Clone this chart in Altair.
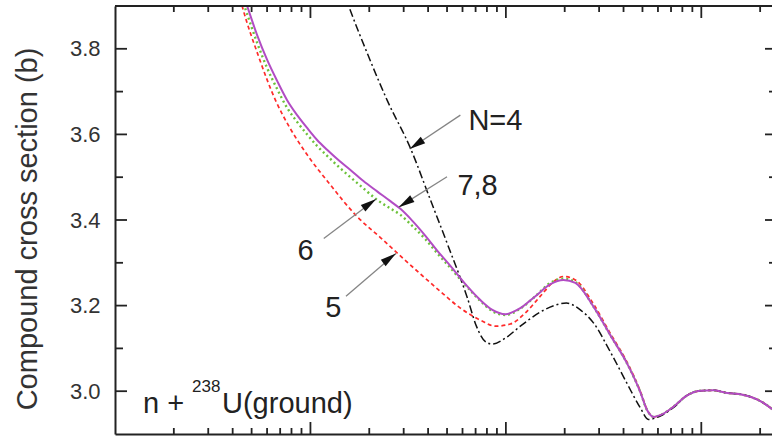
import altair as alt
import pandas as pd

# Compound cross section of n + 238U (ground state) vs incident energy (MeV),
# for coupled-channel calculations with N = 4 ... 8 coupled levels.

# N = 4
e_n4 = [0.1493, 0.1570, 0.1968, 0.2468, 0.3247, 0.4111, 0.5021, 0.6355, 0.7067,
        0.7857, 0.8531, 0.994, 1.186, 1.501, 1.791, 2.040, 2.405, 2.813, 3.423,
        4.169, 4.875, 5.357, 6.170, 7.218, 8.381, 9.883, 11.52, 13.54, 15.83,
        17.81, 20.04, 23.08, 24.77]
s_n4 = [3.928, 3.900, 3.786, 3.680, 3.568, 3.447, 3.344, 3.218, 3.152,
        3.116, 3.110, 3.124, 3.152, 3.185, 3.201, 3.206, 3.190, 3.159, 3.092,
        3.018, 2.961, 2.934, 2.942, 2.962, 2.989, 3.001, 3.002, 2.996, 2.993,
        2.987, 2.977, 2.958, 2.947]

# N = 5
e_n5 = [0.04283, 0.04473, 0.05439, 0.06622, 0.07807, 0.09241, 0.1265, 0.1733,
        0.2280, 0.2886, 0.3653, 0.4789, 0.5852, 0.7403, 0.8837, 1.054, 1.258,
        1.501, 1.729, 1.968, 2.267, 2.813, 3.423, 4.169, 4.875, 5.277, 5.702,
        6.170, 7.218, 8.381, 9.883, 11.52, 13.54, 15.83, 17.81, 20.04, 23.08, 24.77]
s_n5 = [3.933, 3.900, 3.781, 3.680, 3.617, 3.564, 3.482, 3.408,
        3.359, 3.316, 3.274, 3.227, 3.194, 3.166, 3.152, 3.157, 3.183,
        3.222, 3.253, 3.268, 3.260, 3.203, 3.135, 3.068, 3.000, 2.957, 2.940,
        2.944, 2.964, 2.989, 3.001, 3.002, 2.996, 2.993, 2.987, 2.977, 2.958, 2.947]

# N = 6
e_n6 = [0.04385, 0.04745, 0.05337, 0.06006, 0.06756, 0.07599, 0.08551, 0.09619,
        0.1082, 0.1217, 0.1390, 0.1602, 0.1867, 0.2194, 0.2565, 0.2886, 0.3324,
        0.3876, 0.4463, 0.5201, 0.6206, 0.7403, 0.8531, 0.994, 1.186, 1.416,
        1.689, 1.968, 2.267, 2.813, 3.423, 4.169, 4.875, 5.277, 5.702, 6.170,
        7.218, 8.381, 9.883, 11.52, 13.54, 15.83, 17.81, 20.04, 23.08, 24.77]
s_n6 = [3.928, 3.881, 3.814, 3.755, 3.706, 3.662, 3.629, 3.600,
        3.573, 3.550, 3.525, 3.500, 3.474, 3.447, 3.427, 3.412, 3.386,
        3.355, 3.322, 3.288, 3.248, 3.211, 3.187, 3.178, 3.193, 3.222,
        3.253, 3.263, 3.255, 3.197, 3.131, 3.065, 2.998, 2.956, 2.940, 2.944,
        2.964, 2.989, 3.001, 3.002, 2.996, 2.993, 2.987, 2.977, 2.958, 2.947]

# N = 7 and N = 8 (indistinguishable)
e_n78 = [0.04385, 0.04745, 0.05337, 0.06006, 0.06756, 0.07599, 0.08551, 0.09619,
         0.1082, 0.1217, 0.1390, 0.1602, 0.1867, 0.2194, 0.2565, 0.2886, 0.3324,
         0.3876, 0.4463, 0.5201, 0.6206, 0.7403, 0.8531, 0.994, 1.186, 1.416,
         1.689, 1.968, 2.267, 2.813, 3.423, 4.169, 4.875, 5.277, 5.702, 6.170,
         7.218, 8.381, 9.883, 11.52, 13.54, 15.83, 17.81, 20.04, 23.08, 24.77]
s_n78 = [3.947, 3.900, 3.832, 3.774, 3.725, 3.680, 3.645, 3.615,
         3.587, 3.564, 3.540, 3.517, 3.491, 3.467, 3.444, 3.426, 3.398,
         3.363, 3.328, 3.293, 3.250, 3.213, 3.190, 3.180, 3.194, 3.222,
         3.250, 3.260, 3.253, 3.197, 3.131, 3.065, 2.998, 2.956, 2.940, 2.944,
         2.964, 2.989, 3.001, 3.002, 2.996, 2.993, 2.987, 2.977, 2.958, 2.947]

# Axis ticks
x_major = [0.1, 1, 10]
x_minor = [0.02, 0.03, 0.04, 0.05, 0.06, 0.07, 0.08, 0.09,
           0.2, 0.3, 0.4, 0.5, 0.6, 0.7, 0.8, 0.9,
           2, 3, 4, 5, 6, 7, 8, 9, 20]
y_major = [3.0, 3.2, 3.4, 3.6, 3.8]
y_minor = [3.1, 3.3, 3.5, 3.7]

# Curve labels with arrows (label anchor, arrow tail, arrow tip on the curve)
lab_text = ["N=4", "7,8", "6", "5"]
lab_e = [0.643, 0.565, 0.0858, 0.119]
lab_s = [3.610, 3.458, 3.307, 3.173]
tail_e = [0.585, 0.500, 0.117, 0.152]
tail_s = [3.645, 3.501, 3.357, 3.222]
tip_e = [0.322, 0.283, 0.217, 0.274]
tip_s = [3.566, 3.430, 3.449, 3.322]
tip_angle = [236, 238, 55, 53]

W, H = 657, 428
FONT = "Liberation Sans"
INK = "#222222"

xs = alt.Scale(type="log", domain=[0.01, 23])
ys = alt.Scale(domain=[2.9, 3.9], nice=False, zero=False)
x_axis = alt.Axis(labels=False, ticks=False, grid=False, title=None,
                  domainColor=INK, domainWidth=2)
y_axis = alt.Axis(values=y_major, format=".1f", ticks=False, tickSize=0,
                  labelPadding=15, labelFontSize=22, labelFont=FONT,
                  labelColor="#333333", grid=False, title=None,
                  domainColor=INK, domainWidth=2)


def X(field):
    return alt.X(field, type="quantitative", scale=xs, axis=x_axis)


def Y(field):
    return alt.Y(field, type="quantitative", scale=ys, axis=y_axis)


def curve(e, s, color, dash, width):
    df = pd.DataFrame({"E": e, "sigma": s})
    mark = dict(color=color, strokeWidth=width, clip=True, interpolate="monotone")
    if dash:
        mark["strokeDash"] = dash
    return alt.Chart(df).mark_line(**mark).encode(x=X("E"), y=Y("sigma"))


layers = [
    curve(e_n5, s_n5, "#ff2a2a", [4, 3], 1.7),
    curve(e_n6, s_n6, "#6cc23a", [2, 3], 2.4),
    curve(e_n4, s_n4, "#111111", [8, 3, 2, 3], 1.5),
    curve(e_n78, s_n78, "#b24cc4", None, 2.0),
]

# Inward ticks on all four sides
xmaj = alt.Chart(pd.DataFrame({"v": x_major}))
xmin = alt.Chart(pd.DataFrame({"v": x_minor}))
ymaj = alt.Chart(pd.DataFrame({"v": y_major}))
ymin = alt.Chart(pd.DataFrame({"v": y_minor}))
tick = dict(color=INK, strokeWidth=1.8)
layers += [
    xmaj.mark_rule(**tick).encode(x=X("v"), y=alt.value(H), y2=alt.value(H - 12)),
    xmin.mark_rule(**tick).encode(x=X("v"), y=alt.value(H), y2=alt.value(H - 6)),
    xmaj.mark_rule(**tick).encode(x=X("v"), y=alt.value(0), y2=alt.value(12)),
    xmin.mark_rule(**tick).encode(x=X("v"), y=alt.value(0), y2=alt.value(6)),
    ymaj.mark_rule(**tick).encode(y=Y("v"), x=alt.value(0), x2=alt.value(12)),
    ymin.mark_rule(**tick).encode(y=Y("v"), x=alt.value(0), x2=alt.value(8)),
    ymaj.mark_rule(**tick).encode(y=Y("v"), x=alt.value(W - 7), x2=alt.value(W + 5)),
    ymin.mark_rule(**tick).encode(y=Y("v"), x=alt.value(W - 3), x2=alt.value(W + 5)),
    # top frame line
    alt.Chart(pd.DataFrame({"v": [0]})).mark_rule(color=INK, strokeWidth=2).encode(
        x=alt.value(0), x2=alt.value(W + 5), y=alt.value(0)),
]

# Arrows and labels
arrows = pd.DataFrame({"te": tail_e, "ts": tail_s, "he": tip_e, "hs": tip_s,
                       "ang": tip_angle})
labels = pd.DataFrame({"E": lab_e, "sigma": lab_s, "t": lab_text})
head = "M0,0 L-0.25,1 L0.25,1 Z"
layers += [
    alt.Chart(arrows).mark_rule(color="#858585", strokeWidth=1.3).encode(
        x=X("te"), y=Y("ts"), x2="he:Q", y2="hs:Q"),
    alt.Chart(arrows).mark_point(shape=head, filled=True, color="#111111",
                                 opacity=1, size=1024).encode(
        x=X("he"), y=Y("hs"), angle=alt.Angle("ang:Q", scale=None)),
    alt.Chart(labels).mark_text(font=FONT, fontSize=29, color=INK, align="left",
                                baseline="alphabetic").encode(
        x=X("E"), y=Y("sigma"), text="t:N"),
]

# Reaction label with superscript mass number, and the y-axis title
txt = alt.Chart(pd.DataFrame({"v": [0]}))
layers += [
    txt.mark_text(text="n +", font=FONT, fontSize=29, color=INK, align="left",
                  baseline="alphabetic").encode(x=alt.value(28), y=alt.value(407)),
    txt.mark_text(text="238", font=FONT, fontSize=17, color=INK, align="left",
                  baseline="alphabetic").encode(x=alt.value(77), y=alt.value(386)),
    txt.mark_text(text="U(ground)", font=FONT, fontSize=29, color=INK, align="left",
                  baseline="alphabetic").encode(x=alt.value(107), y=alt.value(407)),
    txt.mark_text(text="Compound cross section (b)", font=FONT, fontSize=29,
                  color="#333333", angle=270, align="center",
                  baseline="middle").encode(x=alt.value(-87), y=alt.value(223)),
]

chart = alt.layer(*layers).properties(
    width=W, height=H,
    padding={"left": 115, "top": 6, "right": 0, "bottom": 2},
    autosize=alt.AutoSizeParams(type="none"),
).configure_view(stroke=None)

chart.save("out.html", embed_options={"renderer": "svg", "actions": False})
